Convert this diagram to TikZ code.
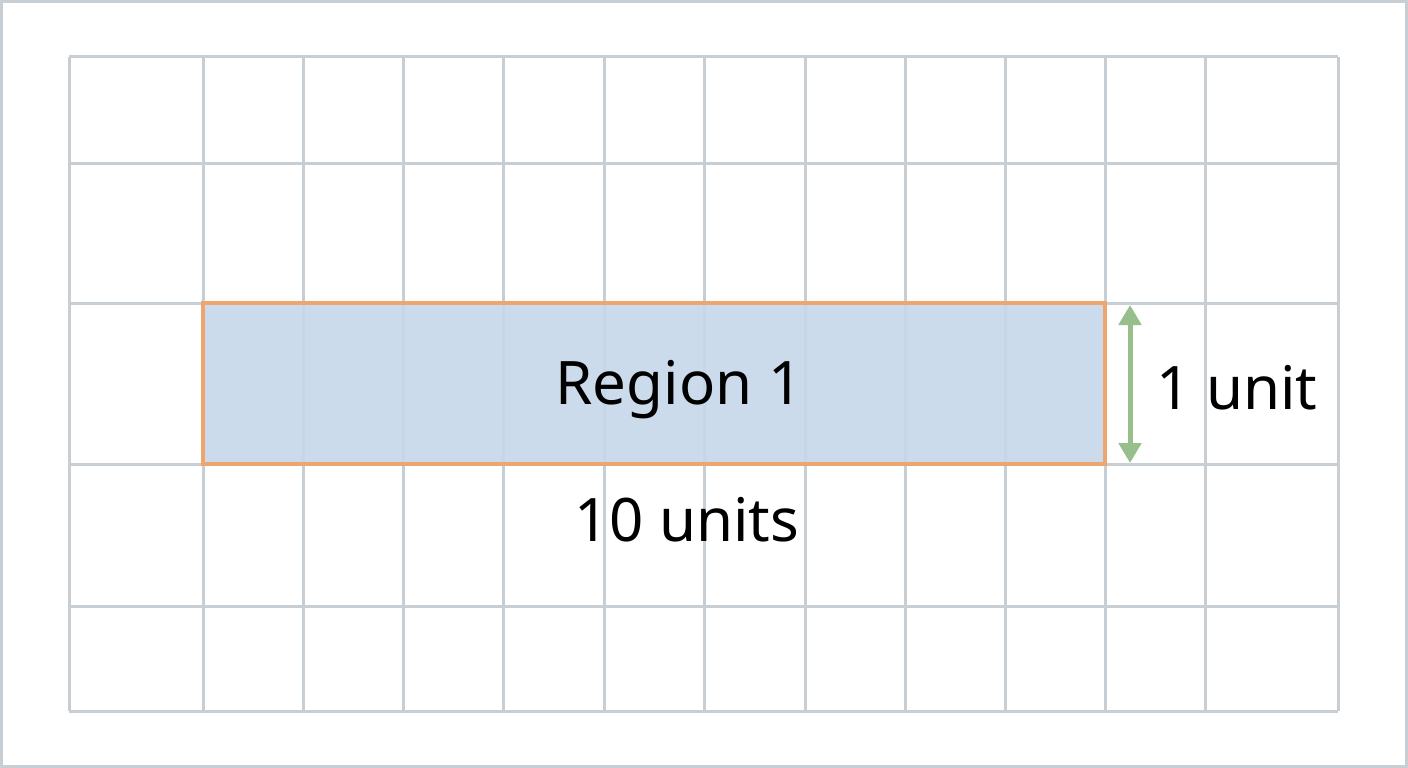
\documentclass[tikz,border=0pt]{standalone}
\usepackage{fontspec}
\setmainfont{Noto Sans}
\usetikzlibrary{arrows.meta}
\definecolor{gridc}{HTML}{C8CFD4}
\definecolor{fillc}{HTML}{C6D7E9}
\definecolor{orc}{HTML}{EFA56E}
\definecolor{grc}{HTML}{96BF8C}
\tikzset{lbl/.style={font=\fontsize{60}{72}\selectfont,text=black,inner sep=0}}
\begin{document}
\begin{tikzpicture}[x=1pt,y=-1pt]
\useasboundingbox (0,0) rectangle (1408,768);
\draw[gridc,line width=3] (1.5,1.5) rectangle (1406.5,766.5);
\foreach \x in {69,203,303,403,503,604,704,805,905,1005,1105,1205,1338}
  \draw[gridc,line width=3] (\x,57) -- (\x,711);
\foreach \y in {57,163,303,464,606,711}
  \draw[gridc,line width=3] (69,\y) -- (1338,\y);
\fill[fillc,opacity=0.9] (203,303) rectangle (1105,464);
\draw[orc,line width=4.5] (203,303) rectangle (1105,464);
\node[lbl] (r) at (679,390) {Region 1};
\coordinate (at) at (1130,305);
\coordinate (ab) at (1130,463);
\draw[grc,line width=5,{Triangle[length=20,width=22]}-{Triangle[length=20,width=22]}] (at) -- (ab);
\node[lbl] (u) at (1237,388) {1 unit};
\node[lbl] (w) at (687,520) {10 units};
\end{tikzpicture}
\end{document}
